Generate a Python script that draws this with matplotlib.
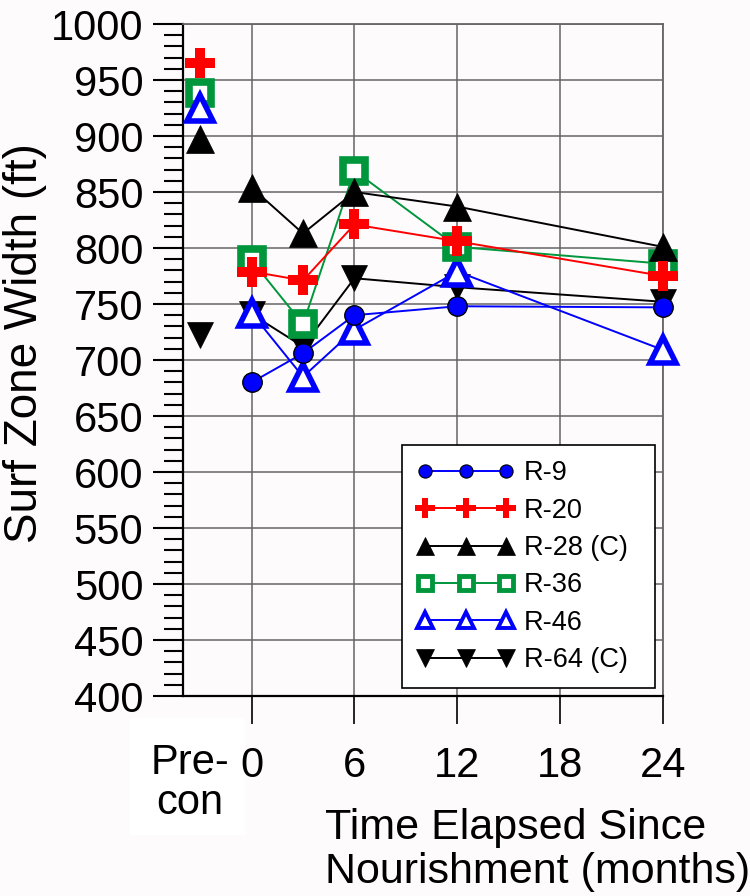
import matplotlib

matplotlib.use("Agg")
import matplotlib.pyplot as plt
import matplotlib.transforms as mtransforms
from matplotlib.lines import Line2D
from matplotlib.patches import Rectangle
from matplotlib.ticker import MultipleLocator

# months since nourishment; pre-construction survey sits left of zero
months = [0, 3, 6, 12, 24]
precon_x = -3
xticks = [0, 6, 12, 18, 24]

labels = ["R-9", "R-20", "R-28 (C)", "R-36", "R-46", "R-64 (C)"]
r9 = [680, 706, 740, 748, 747]
r20 = [779, 771, 821, 806, 775]
r28 = [854, 813, 850, 837, 801]
r36 = [789, 732, 869, 801, 786]
r46 = [742, 685, 727, 779, 709]
r64 = [741, 712, 773, 765, 752]
precon = [None, 965, 897, 938, 925, 722]

plt.rcParams["font.family"] = ["Liberation Sans", "DejaVu Sans"]

BLUE, RED, GREEN = "#0000ff", "#ff0000", "#00963c"
styles = [
    dict(color=BLUE, marker="o", ms=14, mfc=BLUE, mec="black", mew=1.0),
    dict(color=RED, marker="P", ms=21, mfc=RED, mec=RED, mew=0),
    dict(color="black", marker="^", ms=20, mfc="black", mec="black", mew=0.5),
    dict(color=GREEN, marker="s", ms=16, mfc="white", mec=GREEN, mew=5.5),
    dict(color=BLUE, marker="^", ms=19, mfc="white", mec=BLUE, mew=4),
    dict(color="black", marker="v", ms=19, mfc="black", mec="black", mew=0.5),
]
legend_sizes = [
    dict(ms=9.5, mew=0.8),
    dict(ms=14, mew=0),
    dict(ms=13, mew=0.5),
    dict(ms=10, mew=3.5),
    dict(ms=12, mew=2.8),
    dict(ms=13, mew=0.5),
]
series = [r9, r20, r28, r36, r46, r64]

fig = plt.figure(figsize=(7.5, 8.96), dpi=100, facecolor="#fefbfc")
fig.patches.append(Rectangle((0.1733, 0.0681), 0.1533, 0.1306, transform=fig.transFigure,
                             facecolor="white", edgecolor="none", zorder=-5))
ax = fig.add_axes([0.244, 0.2232, 0.64, 0.75])
ax.set_facecolor("#fefbfc")

# later series were drawn first in the original
for i in reversed(range(len(series))):
    ax.plot(months, series[i], lw=1.4, clip_on=False,
            zorder=3 + (len(series) - i) * 0.1, **styles[i])
for i, val in enumerate(precon):
    if val is None:
        continue
    st = dict(styles[i])
    st.pop("color")
    ax.plot([precon_x], [val], ls="none", clip_on=False, zorder=4 + i * 0.1, **st)

ax.set_xlim(-4, 24)
ax.set_ylim(400, 1000)
ax.set_xticks(xticks)
ax.set_xticklabels([str(t) for t in xticks])
ax.yaxis.set_major_locator(MultipleLocator(50))
ax.yaxis.set_minor_locator(MultipleLocator(10))
ax.grid(True, which="major", color="#666666", lw=1.1, zorder=1)
ax.set_axisbelow(True)

ax.tick_params(axis="x", which="major", direction="out", length=20, width=1.2,
               labelsize=30, pad=16)
ax.tick_params(axis="y", which="major", direction="out", length=21.5, width=1.5,
               labelsize=30, pad=7)
ax.tick_params(axis="y", which="minor", direction="out", length=14, width=1.5)
ax.tick_params(axis="x", which="minor", bottom=False)

for side in ("left", "bottom"):
    ax.spines[side].set_color("black")
    ax.spines[side].set_linewidth(1.6)
for side in ("top", "right"):
    ax.spines[side].set_color("#666666")
    ax.spines[side].set_linewidth(1.3)

trans = mtransforms.blended_transform_factory(ax.transData, ax.transAxes)
ax.text(-3.6, -0.13, "Pre-\ncon", transform=trans, ha="center", va="center",
        fontsize=30, linespacing=1.0)

ax.set_ylabel("Surf Zone Width (ft)", fontsize=33)
ax.yaxis.set_label_coords(-0.283, 0.525)
fig.text(325 / 750, 1 - 850 / 896, "Time Elapsed Since\nNourishment (months)",
         ha="left", va="center", fontsize=31, linespacing=1.1)

handles = []
for st, ls in zip(styles, legend_sizes):
    st = dict(st)
    st.update(ls)
    handles.append(Line2D([], [], lw=1.4, **st))
leg = ax.legend(handles, labels, loc="upper left",
                bbox_to_anchor=(0.456, 0.019, 0.527, 0.354), mode="expand",
                borderaxespad=0, numpoints=3, fontsize=19.5, handlelength=3.6,
                handletextpad=0.35, borderpad=0.55, labelspacing=0.42,
                frameon=True, fancybox=False, framealpha=1)
leg.get_frame().set_edgecolor("black")
leg.get_frame().set_linewidth(1.2)
leg.set_zorder(10)

fig.savefig("out.png", dpi=100, facecolor=fig.get_facecolor())
plt.close(fig)
